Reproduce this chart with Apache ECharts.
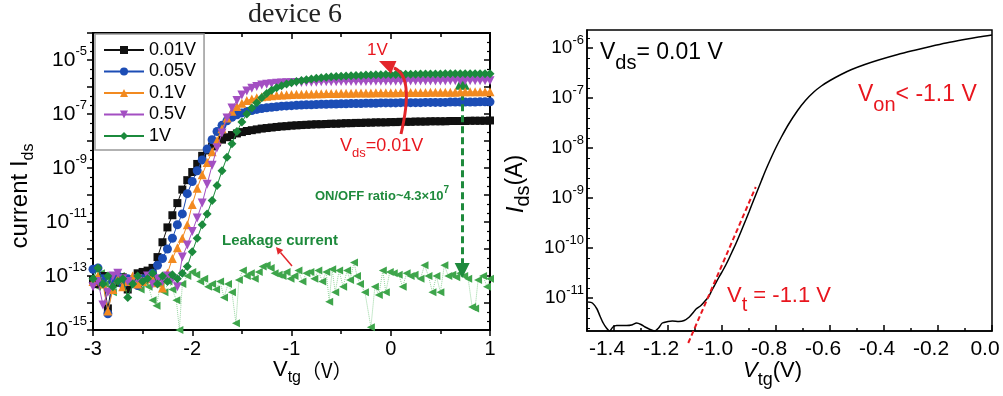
<!DOCTYPE html>
<html><head><meta charset="utf-8">
<script src="https://cdn.jsdelivr.net/npm/echarts@6/dist/echarts.min.js"></script>
<style>html,body{margin:0;padding:0;background:#fff}#c{width:1003px;height:396px}</style>
</head><body><div id="c"></div>
<script>
// ---------- LEFT PANEL DATA (log10 of current, A) ----------
const vtgLeft = [-3.00,-2.95,-2.90,-2.85,-2.80,-2.75,-2.70,-2.65,-2.60,-2.55,
 -2.50,-2.45,-2.40,-2.35,-2.30,-2.25,-2.20,-2.15,-2.10,-2.05,
 -2.00,-1.95,-1.90,-1.85,-1.80,-1.75,-1.70,-1.65,-1.60,-1.55,
 -1.50,-1.45,-1.40,-1.35,-1.30,-1.25,-1.20,-1.15,-1.10,-1.05,
 -1.00,-0.95,-0.90,-0.85,-0.80,-0.75,-0.70,-0.65,-0.60,-0.55,
 -0.50,-0.45,-0.40,-0.35,-0.30,-0.25,-0.20,-0.15,-0.10,-0.05,
 0.00,0.05,0.10,0.15,0.20,0.25,0.30,0.35,0.40,0.45,
 0.50,0.55,0.60,0.65,0.70,0.75,0.80,0.85,0.90,0.95,
 1.00];
const logI_001 = [-13.15,-13.30,-13.00,-14.20,-13.10,-13.25,-13.05,-13.50,-13.20,-12.90,
 -12.85,-12.80,-12.70,-12.30,-11.75,-11.20,-10.75,-10.30,-9.80,-9.45,
 -9.15,-8.85,-8.55,-8.35,-8.20,-8.05,-7.95,-7.86,-7.78,-7.72,
 -7.67,-7.63,-7.60,-7.57,-7.54,-7.52,-7.50,-7.48,-7.46,-7.45,
 -7.43,-7.42,-7.41,-7.40,-7.39,-7.38,-7.38,-7.37,-7.36,-7.36,
 -7.35,-7.34,-7.34,-7.33,-7.33,-7.32,-7.32,-7.31,-7.31,-7.31,
 -7.30,-7.30,-7.29,-7.29,-7.29,-7.28,-7.28,-7.28,-7.27,-7.27,
 -7.27,-7.27,-7.26,-7.26,-7.26,-7.26,-7.25,-7.25,-7.25,-7.25,
 -7.24];
const logI_005 = [-12.75,-12.70,-13.10,-14.40,-13.20,-13.00,-13.30,-13.10,-13.20,-13.35,
 -13.10,-13.07,-12.90,-12.60,-12.35,-12.00,-11.60,-11.10,-10.70,-9.95,
 -9.50,-9.10,-8.70,-8.30,-7.95,-7.65,-7.42,-7.25,-7.12,-7.03,
 -6.96,-6.91,-6.87,-6.83,-6.80,-6.77,-6.75,-6.73,-6.71,-6.70,
 -6.69,-6.68,-6.67,-6.66,-6.66,-6.65,-6.64,-6.64,-6.63,-6.63,
 -6.62,-6.62,-6.61,-6.61,-6.61,-6.60,-6.60,-6.60,-6.59,-6.59,
 -6.59,-6.59,-6.58,-6.58,-6.58,-6.58,-6.58,-6.57,-6.57,-6.57,
 -6.57,-6.57,-6.56,-6.56,-6.56,-6.56,-6.56,-6.56,-6.55,-6.55,
 -6.55];
const logI_01 = [-13.20,-13.00,-13.30,-14.30,-13.50,-13.10,-13.40,-13.20,-13.00,-13.30,
 -13.20,-13.10,-13.00,-13.25,-13.44,-12.90,-12.35,-11.95,-11.60,-11.10,
 -10.35,-9.75,-9.25,-8.80,-8.40,-7.98,-7.55,-7.15,-6.90,-6.72,
 -6.60,-6.50,-6.44,-6.40,-6.36,-6.34,-6.32,-6.31,-6.30,-6.29,
 -6.28,-6.27,-6.27,-6.26,-6.26,-6.25,-6.25,-6.24,-6.24,-6.24,
 -6.23,-6.23,-6.23,-6.22,-6.22,-6.22,-6.22,-6.21,-6.21,-6.21,
 -6.21,-6.21,-6.20,-6.20,-6.20,-6.20,-6.20,-6.20,-6.19,-6.19,
 -6.19,-6.19,-6.19,-6.19,-6.18,-6.18,-6.18,-6.18,-6.18,-6.18,
 -6.18];
const logI_05 = [-13.40,-13.20,-14.07,-13.60,-13.00,-12.90,-13.10,-13.20,-13.30,-13.10,
 -13.20,-13.00,-13.30,-13.10,-13.20,-13.00,-13.10,-13.40,-12.30,-11.85,
 -11.35,-10.85,-10.30,-9.60,-8.90,-8.25,-7.70,-7.15,-6.78,-6.50,
 -6.30,-6.15,-6.05,-5.98,-5.93,-5.90,-5.88,-5.86,-5.85,-5.84,
 -5.84,-5.83,-5.83,-5.82,-5.82,-5.82,-5.81,-5.81,-5.81,-5.81,
 -5.80,-5.80,-5.80,-5.80,-5.80,-5.80,-5.79,-5.79,-5.79,-5.79,
 -5.79,-5.79,-5.79,-5.78,-5.78,-5.78,-5.78,-5.78,-5.78,-5.78,
 -5.78,-5.78,-5.77,-5.77,-5.77,-5.77,-5.77,-5.77,-5.77,-5.77,
 -5.77];
const logI_1 = [-13.10,-12.70,-13.30,-13.00,-13.40,-13.20,-13.10,-13.80,-13.30,-13.00,
 -13.20,-13.10,-12.90,-13.30,-13.00,-13.20,-12.95,-13.10,-12.90,-12.65,
 -12.10,-11.60,-11.10,-10.70,-10.20,-9.65,-9.10,-8.60,-8.10,-7.65,
 -7.30,-7.00,-6.78,-6.58,-6.40,-6.24,-6.12,-6.03,-5.95,-5.89,
 -5.84,-5.80,-5.76,-5.73,-5.70,-5.68,-5.66,-5.64,-5.62,-5.61,
 -5.60,-5.59,-5.58,-5.57,-5.57,-5.56,-5.56,-5.55,-5.55,-5.54,
 -5.54,-5.54,-5.53,-5.53,-5.53,-5.53,-5.52,-5.52,-5.52,-5.52,
 -5.52,-5.51,-5.51,-5.51,-5.51,-5.51,-5.51,-5.51,-5.51,-5.51,
 -5.51];
const leakX = [-3.00,-2.96,-2.92,-2.88,-2.84,-2.80,-2.76,-2.72,-2.68,-2.64,
 -2.60,-2.56,-2.52,-2.48,-2.44,-2.40,-2.36,-2.32,-2.28,-2.24,
 -2.20,-2.16,-2.13,-2.10,-2.05,-2.00,-1.96,-1.92,-1.88,-1.84,
 -1.80,-1.76,-1.72,-1.68,-1.64,-1.60,-1.56,-1.53,-1.49,-1.45,
 -1.41,-1.37,-1.33,-1.29,-1.25,-1.21,-1.17,-1.13,-1.09,-1.05,
 -1.01,-0.97,-0.93,-0.89,-0.85,-0.81,-0.77,-0.73,-0.69,-0.65,
 -0.62,-0.59,-0.56,-0.52,-0.48,-0.44,-0.41,-0.37,-0.34,-0.31,
 -0.26,-0.20,-0.16,-0.12,-0.08,-0.05,-0.01,0.03,0.08,0.12,
 0.16,0.20,0.24,0.30,0.34,0.38,0.42,0.46,0.50,0.54,
 0.58,0.62,0.66,0.70,0.74,0.78,0.82,0.85,0.88,0.93,
 0.97,1.00];
const leakLog = [-13.10,-13.40,-12.90,-13.30,-13.00,-13.60,-13.20,-13.00,-13.40,-13.10,
 -13.30,-13.00,-13.50,-13.20,-13.40,-13.90,-14.10,-13.30,-13.60,-13.20,
 -13.50,-13.90,-15.00,-13.30,-13.00,-12.85,-12.95,-13.20,-13.10,-13.40,
 -13.30,-13.50,-13.20,-13.80,-13.30,-13.60,-14.75,-13.15,-12.80,-13.00,
 -12.90,-13.10,-12.85,-12.65,-12.60,-12.70,-12.90,-12.95,-13.00,-12.85,
 -13.10,-13.00,-12.80,-13.20,-12.90,-12.85,-13.10,-12.80,-13.20,-12.85,
 -13.95,-12.75,-13.60,-12.80,-13.40,-12.80,-13.15,-12.50,-13.00,-13.30,
 -13.60,-14.90,-13.40,-13.70,-12.80,-13.60,-12.85,-12.90,-12.95,-13.40,
 -12.90,-13.00,-12.95,-13.10,-12.60,-13.00,-13.60,-13.00,-13.60,-12.60,
 -13.00,-12.95,-13.05,-12.90,-13.00,-13.10,-14.15,-14.20,-13.15,-13.00,
 -13.40,-13.10];
const vdsNames = ['0.01V','0.05V','0.1V','0.5V','1V'];
const onOffArrowX = [0.72, 0.72];
const onOffArrowLog = [-5.82, -12.8];

// ---------- RIGHT PANEL DATA ----------
const vtgRight = [-1.496,-1.48,-1.463,-1.452,-1.44,-1.428,-1.416,-1.404,-1.39,-1.37,
 -1.353,-1.335,-1.316,-1.30,-1.285,-1.27,-1.25,-1.235,-1.221,-1.20,
 -1.184,-1.16,-1.14,-1.121,-1.108,-1.096,-1.08,-1.066,-1.05,-1.037,
 -1.024,-1.011,-0.998,-0.985,-0.974,-0.963,-0.95,-0.938,-0.925,-0.912,
 -0.90,-0.89,-0.87,-0.853,-0.838,-0.82,-0.801,-0.78,-0.754,-0.72,
 -0.691,-0.66,-0.632,-0.60,-0.559,-0.52,-0.471,-0.42,-0.349,-0.29,
 -0.228,-0.17,-0.103,-0.05,0.0];
const logIdsRight = [-11.08,-11.10,-11.22,-11.36,-11.50,-11.60,-11.66,-11.58,-11.55,-11.55,
 -11.55,-11.54,-11.50,-11.53,-11.58,-11.62,-11.66,-11.60,-11.50,-11.47,
 -11.46,-11.47,-11.45,-11.38,-11.30,-11.22,-11.16,-11.08,-10.98,-10.84,
 -10.71,-10.58,-10.46,-10.33,-10.21,-10.08,-9.93,-9.78,-9.61,-9.44,
 -9.28,-9.14,-8.87,-8.64,-8.44,-8.22,-8.00,-7.78,-7.53,-7.25,
 -7.05,-6.88,-6.76,-6.65,-6.53,-6.43,-6.33,-6.24,-6.13,-6.05,
 -5.97,-5.90,-5.83,-5.78,-5.74];
const vtFitX = [-1.125, -0.875];
const vtFitLog = [-11.9, -8.78];
const rightXLabels = [-1.4,-1.2,-1.0,-0.8,-0.6,-0.4,-0.2,0.0];
const rightYDecades = [-11,-10,-9,-8,-7,-6];

// ---------- STYLE ----------
const FONT = '"Liberation Sans", Arial, sans-serif';
const colors = ['#111111','#1c4db5','#f28a20','#a34fc2','#1b8a3c'];
const symbols = ['rect','circle','triangle','triangle','diamond'];
const rotations = [0,0,0,180,0];
const sizes = [8,9,9,9,9];
const RED = '#e8161e', GREEN = '#1e8a3c';
const pairs = (xs, ys) => xs.map((x, i) => [x, ys[i]]);
const R = (size, o) => Object.assign({fontSize: size, fontFamily: FONT, fill: '#000', color: '#000'}, o || {});

const chart = echarts.init(document.getElementById('c'), null, {renderer: 'canvas'});
const mainLogs = [logI_001, logI_005, logI_01, logI_05, logI_1];
const mainSeries = mainLogs.map((arr, k) => ({
  name: vdsNames[k], type: 'line', xAxisIndex: 0, yAxisIndex: 0,
  data: pairs(vtgLeft, arr), symbol: symbols[k], symbolRotate: rotations[k], symbolSize: sizes[k],
  itemStyle: {color: colors[k]}, lineStyle: {color: colors[k], width: 1}, z: 3 + k
}));

const axisBlack = {onZero: false, lineStyle: {color: '#000', width: 2}};
const tickBlack = w => ({lineStyle: {color: '#000', width: w}});

const option = {
  animation: false,
  backgroundColor: '#fff',
  textStyle: {fontFamily: FONT},
  grid: [
    {left: 93, top: 33, width: 397, height: 297, show: true, borderColor: '#000', borderWidth: 2, backgroundColor: 'transparent'},
    {left: 587, top: 30, width: 405, height: 301, show: true, borderColor: '#000', borderWidth: 1.5, backgroundColor: 'transparent'}
  ],
  legend: {
    data: vdsNames, orient: 'vertical', left: 95, top: 34,
    padding: [7, 8, 5, 8], itemGap: 3.5, itemWidth: 40, itemHeight: 10,
    borderColor: '#999', borderWidth: 1.5, backgroundColor: '#fff',
    textStyle: {fontSize: 18, lineHeight: 18, color: '#000', fontFamily: FONT}
  },
  xAxis: [
    {gridIndex: 0, type: 'value', position: 'bottom', min: -3, max: 1, interval: 1,
     axisLine: axisBlack, axisTick: Object.assign({inside: false, length: 6}, tickBlack(1.5)),
     minorTick: Object.assign({show: true, splitNumber: 2, length: 4}, tickBlack(1.5)),
     splitLine: {show: false}, minorSplitLine: {show: false},
     axisLabel: {fontSize: 20, color: '#000', margin: 9, fontFamily: FONT}},
    {gridIndex: 0, type: 'value', position: 'top', min: -3, max: 1, interval: 1,
     axisLine: axisBlack, axisTick: Object.assign({inside: true, length: 6}, tickBlack(1.5)),
     minorTick: Object.assign({show: true, splitNumber: 2, length: 4}, tickBlack(1.5)),
     splitLine: {show: false}, axisLabel: {show: false}},
    {gridIndex: 1, type: 'value', position: 'bottom', min: -1.5, max: 0, interval: 0.1,
     axisLine: {onZero: false, lineStyle: {color: '#000', width: 1.5}},
     axisTick: Object.assign({inside: true, length: 3}, tickBlack(1.5)),
     splitLine: {show: false},
     axisLabel: {fontSize: 21, color: '#000', margin: 8, fontFamily: FONT, padding: [0, 14, 0, 0],
       formatter: v => { const t = Math.round(v * 10); return (t % 2 === 0) ? (t / 10).toFixed(1) : ''; }}},
    {gridIndex: 1, type: 'value', position: 'bottom', min: -1.5, max: 0, splitNumber: 7,
     axisLine: {show: false, onZero: false},
     axisTick: Object.assign({inside: true, length: 6, customValues: rightXLabels}, tickBlack(1.5)),
     splitLine: {show: false}, axisLabel: {show: false}}
  ],
  yAxis: [
    {gridIndex: 0, type: 'value', position: 'left', min: -15, max: -4, interval: 1,
     axisLine: axisBlack, axisTick: Object.assign({inside: false, length: 6}, tickBlack(1.5)),
     minorTick: Object.assign({show: true, splitNumber: 3, length: 3}, tickBlack(1.2)),
     splitLine: {show: false},
     axisLabel: {margin: 6, color: '#000',
       formatter: v => { const e = Math.round(v); return Math.abs(e % 2) === 1 ? '{n|10}{s|' + e + '}' : ''; },
       rich: {n: {fontSize: 21, lineHeight: 30, fontFamily: FONT, color: '#000'},
              s: {fontSize: 13, lineHeight: 13, verticalAlign: 'top', fontFamily: FONT, color: '#000'}}}},
    {gridIndex: 0, type: 'value', position: 'right', min: -15, max: -4, interval: 1,
     axisLine: axisBlack, axisTick: Object.assign({inside: true, length: 6}, tickBlack(1.5)),
     minorTick: Object.assign({show: true, splitNumber: 3, length: 3}, tickBlack(1.2)),
     splitLine: {show: false}, axisLabel: {show: false}},
    {gridIndex: 1, type: 'value', position: 'left', min: -11.66, max: -5.64, splitNumber: 6,
     axisLine: {onZero: false, lineStyle: {color: '#000', width: 1.5}},
     axisTick: Object.assign({inside: true, length: 6, customValues: rightYDecades}, tickBlack(1.5)),
     minorTick: Object.assign({show: true, splitNumber: 5, length: 3}, tickBlack(1)),
     splitLine: {show: false},
     axisLabel: {margin: 3, color: '#000', customValues: rightYDecades,
       formatter: v => Math.abs(v - Math.round(v)) < 1e-6 ? '{n|10}{s|' + Math.round(v) + '}' : '',
       rich: {n: {fontSize: 19, lineHeight: 28, fontFamily: FONT, color: '#000'},
              s: {fontSize: 13, lineHeight: 13, verticalAlign: 'top', fontFamily: FONT, color: '#000'}}}}
  ],
  series: [
    {name: 'Leakage', type: 'line', xAxisIndex: 0, yAxisIndex: 0, data: pairs(leakX, leakLog),
     symbol: 'triangle', symbolRotate: 90, symbolSize: 8, z: 2,
     itemStyle: {color: '#3ea54b'}, lineStyle: {color: '#93d39c', width: 1, type: 'dotted'},
     markLine: {silent: true, symbol: ['triangle', 'triangle'], symbolSize: 15, label: {show: false},
       lineStyle: {color: GREEN, width: 3, type: [7, 4]},
       data: [[{coord: [onOffArrowX[0], onOffArrowLog[0]]}, {coord: [onOffArrowX[1], onOffArrowLog[1]]}]]}},
    ...mainSeries,
    {name: 'Ids', type: 'line', xAxisIndex: 2, yAxisIndex: 2, data: pairs(vtgRight, logIdsRight),
     showSymbol: false, symbol: 'none', smooth: 0.25, lineStyle: {color: '#000', width: 1.5}, z: 3},
    {name: 'Vt fit', type: 'line', xAxisIndex: 2, yAxisIndex: 2, data: pairs(vtFitX, vtFitLog),
     symbol: 'none', clip: false, lineStyle: {color: RED, width: 2, type: [5, 3]}, z: 6}
  ],
  graphic: [
    {type: 'text', x: 295, y: 15, z: 100, style: {text: 'device 6', fontSize: 28, fontFamily: '"Liberation Serif", "Times New Roman", serif', fill: '#222', align: 'center', verticalAlign: 'middle'}},
    {type: 'text', x: 20, y: 196, rotation: Math.PI / 2, z: 100, style: {text: '{m|current I}{s|ds}', align: 'center', verticalAlign: 'middle',
      rich: {m: R(24, {lineHeight: 34}), s: R(16, {lineHeight: 16, verticalAlign: 'bottom'})}}},
    {type: 'text', x: 273, y: 370, z: 100, style: {text: '{m|V}{s|tg}{c|（V）}', align: 'left', verticalAlign: 'middle',
      rich: {m: R(22, {lineHeight: 32}), s: R(16, {lineHeight: 16, verticalAlign: 'bottom'}), c: R(20, {lineHeight: 32, fontFamily: '"Noto Sans CJK SC", sans-serif'})}}},
    // red Vds arrow
    {type: 'bezierCurve', z: 100, shape: {x1: 401, y1: 134, cpx1: 409, cpy1: 100, cpx2: 409, cpy2: 74, x2: 394, y2: 68},
      style: {stroke: '#e3262b', lineWidth: 3, fill: null}},
    {type: 'polygon', z: 100, shape: {points: [[379, 61], [396.4, 60.9], [391.0, 73.7]]}, style: {fill: '#e3262b'}},
    {type: 'text', x: 367, y: 50, z: 100, style: {text: '1V', fontSize: 17, fontFamily: FONT, fill: RED, align: 'left', verticalAlign: 'middle'}},
    {type: 'text', x: 340, y: 146, z: 100, style: {text: '{m|V}{s|ds}{m|=0.01V}', align: 'left', verticalAlign: 'middle',
      rich: {m: R(18, {lineHeight: 28, fill: RED}), s: R(13, {lineHeight: 13, verticalAlign: 'bottom', fill: RED})}}},
    {type: 'text', x: 315, y: 196, z: 100, style: {text: '{m|ON/OFF ratio~4.3×10}{p|7}', align: 'left', verticalAlign: 'middle',
      rich: {m: R(13, {lineHeight: 22, fill: GREEN, fontWeight: 'bold'}), p: R(10, {lineHeight: 10, verticalAlign: 'top', fill: GREEN, fontWeight: 'bold'})}}},
    {type: 'text', x: 222, y: 241, z: 100, style: {text: 'Leakage current', fontSize: 15, fontWeight: 'bold', fontFamily: FONT, fill: GREEN, align: 'left', verticalAlign: 'middle'}},
    {type: 'line', z: 100, shape: {x1: 292, y1: 266, x2: 280.5, y2: 252.4}, style: {stroke: '#e3262b', lineWidth: 1.5}},
    {type: 'polygon', z: 100, shape: {points: [[276, 247], [283.2, 250.1], [277.8, 254.7]]}, style: {fill: '#e3262b'}},
    // right panel texts
    {type: 'text', x: 600, y: 53, z: 100, style: {text: '{m|V}{s|ds}{m|= 0.01 V}', align: 'left', verticalAlign: 'middle',
      rich: {m: R(23, {lineHeight: 40}), s: R(20, {lineHeight: 20, verticalAlign: 'bottom'})}}},
    {type: 'text', x: 858, y: 95, z: 100, style: {text: '{m|V}{s|on}{m|< -1.1 V}', align: 'left', verticalAlign: 'middle',
      rich: {m: R(23, {lineHeight: 40, fill: RED}), s: R(20, {lineHeight: 20, verticalAlign: 'bottom', fill: RED})}}},
    {type: 'text', x: 727, y: 296, z: 100, style: {text: '{m|V}{s|t}{m| = -1.1 V}', align: 'left', verticalAlign: 'middle',
      rich: {m: R(22, {lineHeight: 38, fill: RED}), s: R(20, {lineHeight: 20, verticalAlign: 'bottom', fill: RED})}}},
    {type: 'text', x: 516, y: 184, rotation: Math.PI / 2, z: 100, style: {text: '{i|I}{s|ds}{m|(A)}', align: 'center', verticalAlign: 'middle',
      rich: {i: R(24, {lineHeight: 34, fontStyle: 'italic'}), s: R(20, {lineHeight: 20, verticalAlign: 'bottom'}), m: R(23, {lineHeight: 34})}}},
    {type: 'text', x: 743, y: 371, z: 100, style: {text: '{i|V}{s|tg}{m|(V)}', align: 'left', verticalAlign: 'middle',
      rich: {i: R(22, {lineHeight: 36, fontStyle: 'italic'}), s: R(18, {lineHeight: 18, verticalAlign: 'bottom'}), m: R(22, {lineHeight: 36})}}}
  ]
};
chart.setOption(option);
</script></body></html>
